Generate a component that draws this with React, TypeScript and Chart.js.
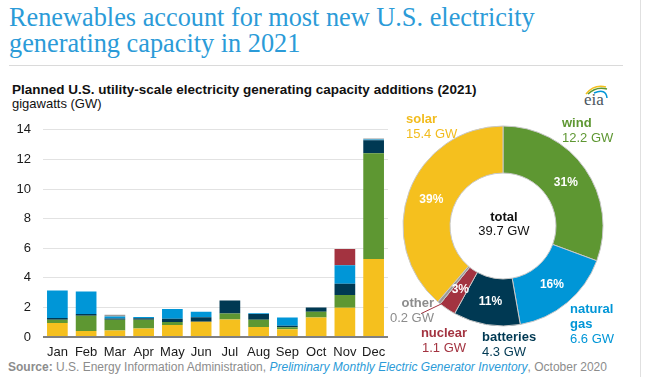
import React, { useEffect, useRef } from "react";
import { Chart, registerables } from "chart.js";

Chart.register(...registerables);

// ---------- data ----------
const months = ["Jan", "Feb", "Mar", "Apr", "May", "Jun", "Jul", "Aug", "Sep", "Oct", "Nov", "Dec"];
const solarGW = [0.94, 0.4, 0.44, 0.57, 0.81, 1.03, 1.19, 0.67, 0.53, 1.32, 1.98, 5.27];
const windGW = [0.22, 1.03, 0.72, 0.59, 0.21, 0, 0.39, 0.5, 0.13, 0.39, 0.85, 7.14];
const batteriesGW = [0.13, 0.12, 0.09, 0.1, 0.21, 0.3, 0.88, 0.39, 0.1, 0.29, 0.76, 0.88];
const naturalGasGW = [1.86, 1.52, 0.13, 0.09, 0.66, 0.38, 0, 0.05, 0.55, 0, 1.25, 0.05];
const nuclearGW = [0, 0, 0, 0, 0, 0, 0, 0, 0, 0, 1.1, 0];
const otherGW = [0, 0, 0.12, 0, 0, 0, 0, 0, 0, 0, 0, 0.07];
const yMax = 14;
const yStep = 2;

const donutNames = ["wind", "natural gas", "batteries", "nuclear", "other", "solar"];
const donutValues = [12.2, 6.6, 4.3, 1.1, 0.2, 15.4];
const donutPercents = ["31%", "16%", "11%", "3%", "", "39%"];
const donutValueLabels = ["12.2 GW", "6.6 GW", "4.3 GW", "1.1 GW", "0.2 GW", "15.4 GW"];
const totalLabel = "39.7 GW";

const COLORS = {
  solar: "#f5c01e",
  wind: "#5e9732",
  batteries: "#003953",
  gas: "#0096d7",
  nuclear: "#a33340",
  other: "#9a9a9a",
};
const donutColors = [COLORS.wind, COLORS.gas, COLORS.batteries, COLORS.nuclear, COLORS.other, COLORS.solar];

const FONT = "'Liberation Sans', Arial, sans-serif";

function BarChart() {
  const ref = useRef<HTMLCanvasElement>(null);
  useEffect(() => {
    const ds = (label: string, data: number[], color: string) => ({
      label,
      data,
      backgroundColor: color,
      borderWidth: 0,
      categoryPercentage: 0.8,
      barPercentage: 0.9,
    });
    const chart = new Chart(ref.current!, {
      type: "bar",
      data: {
        labels: months,
        datasets: [
          ds("solar", solarGW, COLORS.solar),
          ds("wind", windGW, COLORS.wind),
          ds("batteries", batteriesGW, COLORS.batteries),
          ds("natural gas", naturalGasGW, COLORS.gas),
          ds("nuclear", nuclearGW, COLORS.nuclear),
          ds("other", otherGW, COLORS.other),
        ],
      },
      options: {
        animation: false,
        responsive: false,
        maintainAspectRatio: false,
        layout: { padding: { top: 15, right: 7, left: 0, bottom: 0 } },
        plugins: { legend: { display: false }, tooltip: { enabled: false } },
        scales: {
          x: {
            stacked: true,
            grid: { display: false, drawTicks: false },
            border: { display: false },
            ticks: {
              color: "#1a1a1a",
              font: { family: FONT, size: 13 },
              padding: 8,
              maxRotation: 0,
              autoSkip: false,
            },
            afterFit: (s: any) => {
              s.height = 23;
            },
          },
          y: {
            stacked: true,
            min: 0,
            max: yMax,
            ticks: {
              stepSize: yStep,
              color: "#1a1a1a",
              font: { family: FONT, size: 13 },
              padding: 12,
            },
            grid: {
              color: (c: any) => (c.tick && c.tick.value === 0 ? "#808080" : "#e2e2e2"),
              lineWidth: (c: any) => (c.tick && c.tick.value === 0 ? 2 : 1),
              drawTicks: false,
            },
            border: { display: false },
            afterFit: (s: any) => {
              s.width = 43;
            },
          },
        },
      },
    });
    return () => chart.destroy();
  }, []);
  return (
    <canvas
      ref={ref}
      width={395}
      height={250}
      style={{ position: "absolute", left: 0, top: 110, width: 395, height: 250 }}
    />
  );
}

const donutLabelPlugin = {
  id: "donutLabels",
  afterDatasetsDraw(chart: any) {
    const ctx = chart.ctx;
    const meta = chart.getDatasetMeta(0);
    ctx.save();
    ctx.font = `bold 12px ${FONT}`;
    ctx.fillStyle = "#ffffff";
    ctx.textAlign = "center";
    ctx.textBaseline = "middle";
    meta.data.forEach((arc: any, i: number) => {
      const p = arc.getProps(["x", "y", "startAngle", "endAngle", "innerRadius", "outerRadius"], true);
      const mid = (p.startAngle + p.endAngle) / 2;
      const r = (p.innerRadius + p.outerRadius) / 2;
      const t = donutPercents[i];
      if (t) ctx.fillText(t, p.x + Math.cos(mid) * r, p.y + Math.sin(mid) * r);
      if (donutNames[i] === "nuclear") {
        ctx.strokeStyle = COLORS.nuclear;
        ctx.lineWidth = 1;
        ctx.beginPath();
        const a = mid + 0.06;
        ctx.moveTo(p.x + Math.cos(a) * (p.outerRadius - 4), p.y + Math.sin(a) * (p.outerRadius - 4));
        ctx.lineTo(p.x + Math.cos(a + 0.1) * (p.outerRadius + 20), p.y + Math.sin(a + 0.1) * (p.outerRadius + 20));
        ctx.stroke();
      }
    });
    ctx.restore();
  },
};

function DonutChart() {
  const ref = useRef<HTMLCanvasElement>(null);
  useEffect(() => {
    const chart = new Chart(ref.current!, {
      type: "doughnut",
      data: {
        labels: donutNames,
        datasets: [
          {
            data: donutValues,
            backgroundColor: donutColors,
            borderColor: "#c8c8c8",
            borderWidth: 1,
          },
        ],
      },
      options: {
        animation: false,
        responsive: false,
        maintainAspectRatio: false,
        radius: 100,
        cutout: 58,
        layout: { padding: 0 },
        plugins: { legend: { display: false }, tooltip: { enabled: false } },
      },
      plugins: [donutLabelPlugin],
    });
    return () => chart.destroy();
  }, []);
  return (
    <canvas
      ref={ref}
      width={220}
      height={220}
      style={{ position: "absolute", left: 393, top: 116, width: 220, height: 220 }}
    />
  );
}

function Label(props: {
  left: number;
  top: number;
  name: string;
  value: string;
  color: string;
  align?: "left" | "right" | "center";
  width?: number;
}) {
  const w = props.width ?? 80;
  let left = props.left;
  if (props.align === "right") left = props.left - w;
  if (props.align === "center") left = props.left - w / 2;
  return (
    <div
      style={{
        position: "absolute",
        left,
        top: props.top,
        width: w,
        textAlign: props.align ?? "left",
        color: props.color,
        font: `13px/15px ${FONT}`,
        whiteSpace: "pre",
      }}
    >
      <div style={{ fontWeight: "bold" }}>{props.name}</div>
      <div>{props.value}</div>
    </div>
  );
}

export default function App() {
  return (
    <div
      style={{
        position: "fixed",
        left: 0,
        top: 0,
        width: 657,
        height: 377,
        background: "#fff",
        overflow: "hidden",
        fontFamily: FONT,
      }}
    >
      <div
        style={{
          position: "absolute",
          left: 9,
          top: 5,
          font: "26.3px/26px 'Liberation Serif', 'Times New Roman', serif",
          color: "#2b9bd8",
          whiteSpace: "nowrap",
        }}
      >
        Renewables account for most new U.S. electricity
        <br />
        generating capacity in 2021
      </div>
      <div style={{ position: "absolute", left: 9, top: 65, width: 614, height: 1, background: "#dadada" }} />
      <div style={{ position: "absolute", left: 640, top: 0, width: 1, height: 377, background: "#e0e0e0" }} />
      <div
        style={{
          position: "absolute",
          left: 12,
          top: 82,
          color: "#111",
          whiteSpace: "nowrap",
        }}
      >
        <div style={{ font: `bold 13.5px/15px ${FONT}` }}>
          Planned U.S. utility-scale electricity generating capacity additions (2021)
        </div>
        <div style={{ font: `13px/13px ${FONT}` }}>gigawatts (GW)</div>
      </div>
      <svg style={{ position: "absolute", left: 580, top: 82 }} width={32} height={28}>
        <path d="M6 12 Q14 2 26 5" stroke="#f5c01e" strokeWidth={1.5} fill="none" />
        <path d="M8 12 Q16 4 27 7" stroke="#5e9732" strokeWidth={1.5} fill="none" />
        <path d="M14 11 Q26 6 27 16" stroke="#0096d7" strokeWidth={1.5} fill="none" />
        <text x={4} y={23} fontFamily="'Liberation Serif', serif" fontSize={17} fill="#4a5560">
          eia
        </text>
      </svg>
      <BarChart />
      <DonutChart />
      <Label left={406} top={111} name={donutNames[5]} value={donutValueLabels[5]} color="#f2bc1e" />
      <Label left={562} top={115} name={donutNames[0]} value={donutValueLabels[0]} color={COLORS.wind} />
      <Label left={570} top={301} name={"natural\ngas"} value={donutValueLabels[1]} color={COLORS.gas} />
      <Label left={482} top={329} name={donutNames[2]} value={donutValueLabels[2]} color={COLORS.batteries} />
      <Label left={444} top={325} name={donutNames[3]} value={donutValueLabels[3]} color={COLORS.nuclear} align="center" />
      <Label left={434} top={295} name={donutNames[4]} value={donutValueLabels[4]} color="#8c8c8c" align="right" />
      <div
        style={{
          position: "absolute",
          left: 454,
          top: 210,
          width: 100,
          textAlign: "center",
          font: `13px/14px ${FONT}`,
          color: "#111",
        }}
      >
        <div style={{ fontWeight: "bold" }}>total</div>
        <div>{totalLabel}</div>
      </div>
      <div
        style={{
          position: "absolute",
          left: 8,
          top: 360,
          font: `12px/14px ${FONT}`,
          color: "#8c8c8c",
          whiteSpace: "nowrap",
        }}
      >
        <span style={{ fontWeight: "bold" }}>Source:</span> U.S. Energy Information Administration,{" "}
        <i style={{ color: "#2b9bd8" }}>Preliminary Monthly Electric Generator Inventory</i>, October 2020
      </div>
    </div>
  );
}
